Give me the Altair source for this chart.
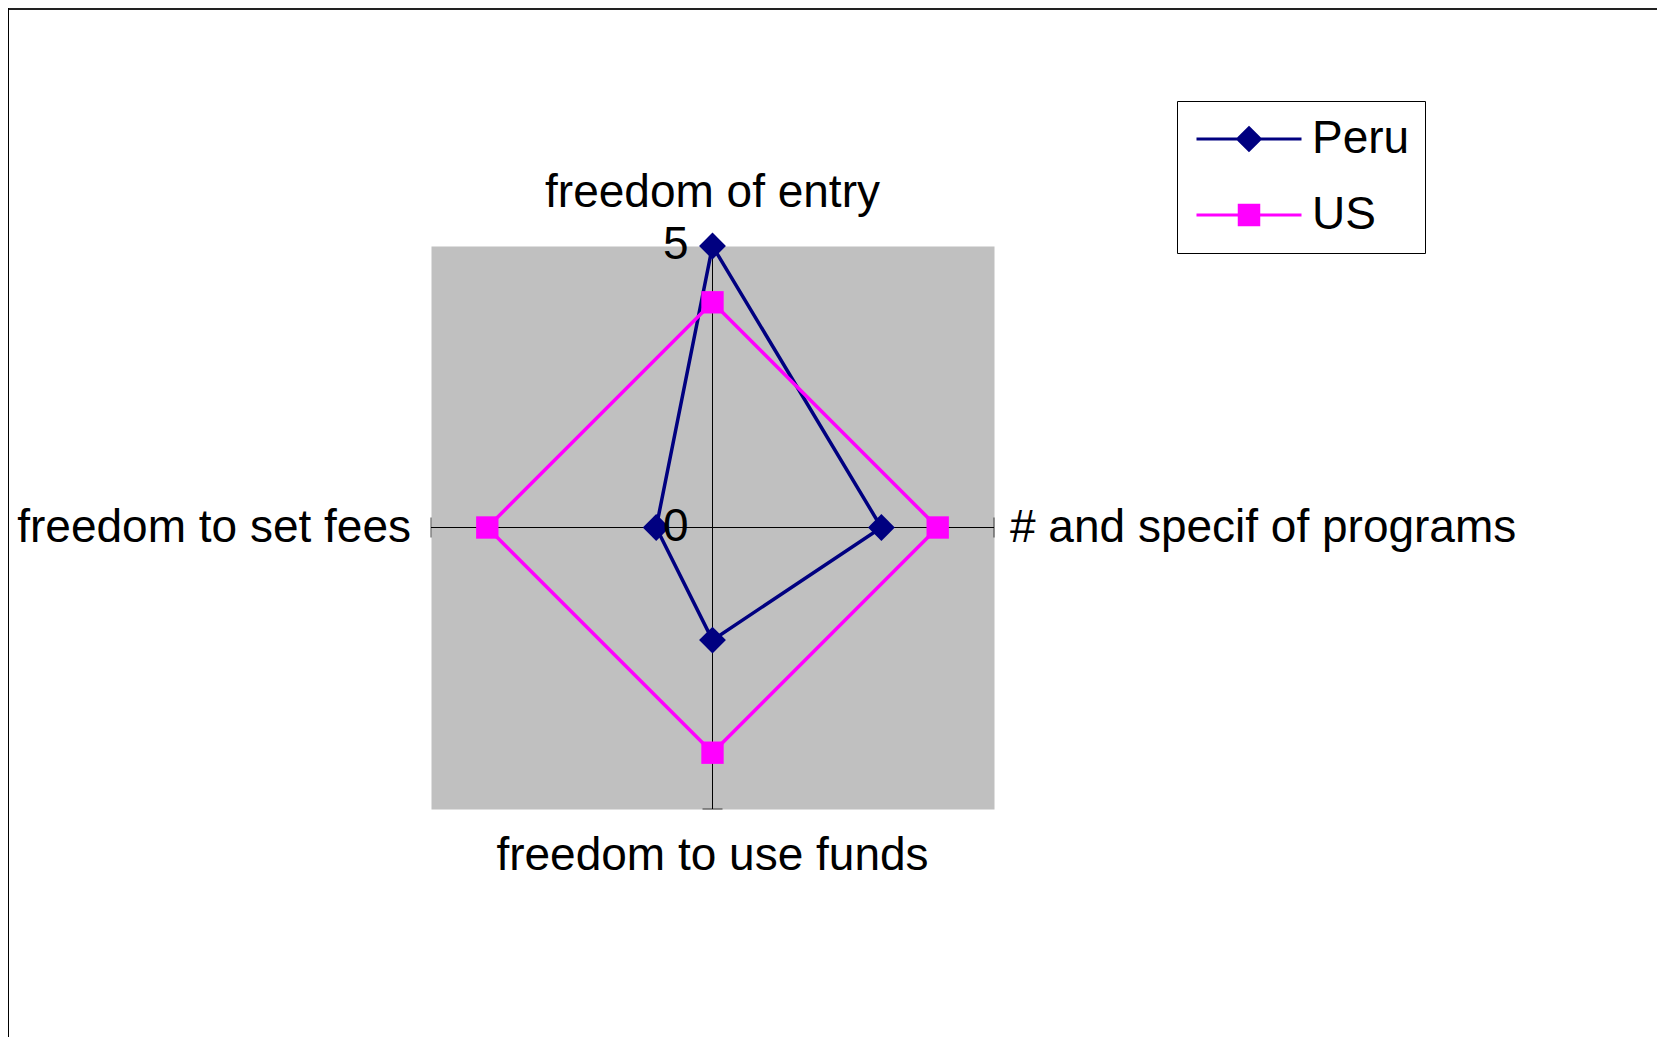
import altair as alt
import pandas as pd

# ---------------- data ----------------
categories = ["freedom of entry", "# and specif of programs", "freedom to use funds", "freedom to set fees"]
series_names = ["Peru", "US"]
peru_values = [5, 3, 2, 1]
us_values = [4, 4, 4, 4]
axis_ticks = [0, 5]

series_colors = ["#000080", "#FF00FF"]
marker_shapes = ["diamond", "square"]
marker_sizes = [720, 500]
legend_paths = [
    "M-3.5,0L3.5,0M0,-0.75L0.75,0L0,0.75L-0.75,0Z",
    "M-3.5,0L3.5,0M-0.65,-0.65L0.65,-0.65L0.65,0.65L-0.65,0.65Z",
]

N = len(categories)
RMAX = max(axis_ticks)
FONT = "Liberation Sans"
FS = 46

rows = []
for name, vals in zip(series_names, [peru_values, us_values]):
    for i, (c, v) in enumerate(zip(categories, vals)):
        rows.append({"series": name, "category": c, "idx": i, "value": v})
    # close the polygon back to the first spoke
    rows.append({"series": name, "category": categories[0], "idx": N, "value": vals[0]})
df = pd.DataFrame(rows)
cat_df = pd.DataFrame({"category": categories, "idx": list(range(N))})
tick_df = pd.DataFrame({"tick": axis_ticks})

xs = alt.Scale(domain=[-RMAX, RMAX], nice=False, zero=False)
ys = alt.Scale(domain=[-RMAX, RMAX], nice=False, zero=False)

ANG = f"datum.idx * 2 * PI / {N}"


def polar(ch):
    return ch.transform_calculate(
        px=f"datum.value * sin({ANG})",
        py=f"datum.value * cos({ANG})",
    )


def spoke_end(ch):
    return ch.transform_calculate(
        cx="0",
        cy="0",
        ex=f"{RMAX} * sin({ANG})",
        ey=f"{RMAX} * cos({ANG})",
    )


layers = []

# frame (chart area border)
layers.append(
    alt.Chart().mark_rule(color="#222222", strokeWidth=2).encode(
        x=alt.value(-423), x2=alt.value(1226), y=alt.value(-237)
    )
)
layers.append(
    alt.Chart().mark_rule(color="black", strokeWidth=1).encode(
        x=alt.value(-422.5), y=alt.value(-238), y2=alt.value(791)
    )
)

# spokes
layers.append(
    spoke_end(alt.Chart(cat_df)).mark_rule(color="black", strokeWidth=1).encode(
        x=alt.X("cx:Q", scale=xs, axis=None),
        y=alt.Y("cy:Q", scale=ys, axis=None),
        x2="ex:Q",
        y2="ey:Q",
    )
)
# end ticks
layers.append(
    spoke_end(alt.Chart(cat_df)).transform_filter("datum.idx % 2 == 1")
    .mark_tick(orient="vertical", size=20, thickness=1, color="black")
    .encode(x=alt.X("ex:Q", scale=xs, axis=None), y=alt.Y("ey:Q", scale=ys, axis=None))
)
layers.append(
    spoke_end(alt.Chart(cat_df)).transform_filter("datum.idx % 2 == 0")
    .mark_tick(orient="horizontal", size=20, thickness=1, color="black")
    .encode(x=alt.X("ex:Q", scale=xs, axis=None), y=alt.Y("ey:Q", scale=ys, axis=None))
)

# series lines + markers
for name, col, shp, sz in zip(series_names, series_colors, marker_shapes, marker_sizes):
    base = polar(alt.Chart(df).transform_filter(alt.datum.series == name))
    layers.append(
        base.mark_line(color=col, strokeWidth=3.5).encode(
            x=alt.X("px:Q", scale=xs, axis=None),
            y=alt.Y("py:Q", scale=ys, axis=None),
            order="idx:Q",
        )
    )
    layers.append(
        base.transform_filter(f"datum.idx < {N}")
        .mark_point(shape=shp, size=sz, filled=True, color=col, opacity=1)
        .encode(x=alt.X("px:Q", scale=xs, axis=None), y=alt.Y("py:Q", scale=ys, axis=None))
    )

# legend (from an empty layer, entries from the explicit scale domain)
leg = alt.Legend(
    title=None,
    orient="none",
    legendX=746,
    legendY=-145,
    padding=15,
    strokeColor="black",
    fillColor="white",
    symbolSize=900,
    symbolStrokeWidth=3,
    symbolOffset=34,
    labelOffset=40,
    labelFontSize=FS,
    labelFont=FONT,
    labelColor="black",
    rowPadding=30,
    symbolOpacity=1,
    cornerRadius=0,
)
layers.append(
    polar(alt.Chart(df)).transform_filter("false")
    .mark_point(filled=True, strokeWidth=3)
    .encode(
        x=alt.X("px:Q", scale=xs, axis=None),
        y=alt.Y("py:Q", scale=ys, axis=None),
        shape=alt.Shape("series:N", scale=alt.Scale(domain=series_names, range=legend_paths), legend=leg),
        fill=alt.Fill("series:N", scale=alt.Scale(domain=series_names, range=series_colors), legend=leg),
        stroke=alt.Stroke("series:N", scale=alt.Scale(domain=series_names, range=series_colors), legend=leg),
    )
)

# category labels
label_specs = [(0, "center", 0, -53), (1, "left", 16, 0), (2, "center", 0, 47), (3, "right", -20, 0)]
for idx, al, dx, dy in label_specs:
    layers.append(
        spoke_end(alt.Chart(cat_df)).transform_filter(f"datum.idx == {idx}")
        .mark_text(align=al, baseline="middle", dx=dx, dy=dy, fontSize=FS, font=FONT, color="black")
        .encode(
            x=alt.X("ex:Q", scale=xs, axis=None),
            y=alt.Y("ey:Q", scale=ys, axis=None),
            text="category:N",
        )
    )

# value axis labels
layers.append(
    alt.Chart(tick_df).transform_calculate(cx="0")
    .mark_text(align="right", baseline="middle", dx=-24, dy=-1, fontSize=FS, font=FONT, color="black")
    .encode(
        x=alt.X("cx:Q", scale=xs, axis=None),
        y=alt.Y("tick:Q", scale=ys, axis=None),
        text="tick:Q",
    )
)

chart = (
    alt.layer(*layers)
    .properties(
        width=563,
        height=563,
        autosize=alt.AutoSizeParams(type="none"),
        padding={"left": 423, "top": 238, "right": 663, "bottom": 228},
        background="white",
    )
    .configure(font=FONT)
    .configure_view(fill="#C0C0C0", stroke="transparent")
)

chart.save("out.html", embed_options={"renderer": "svg", "actions": False})
